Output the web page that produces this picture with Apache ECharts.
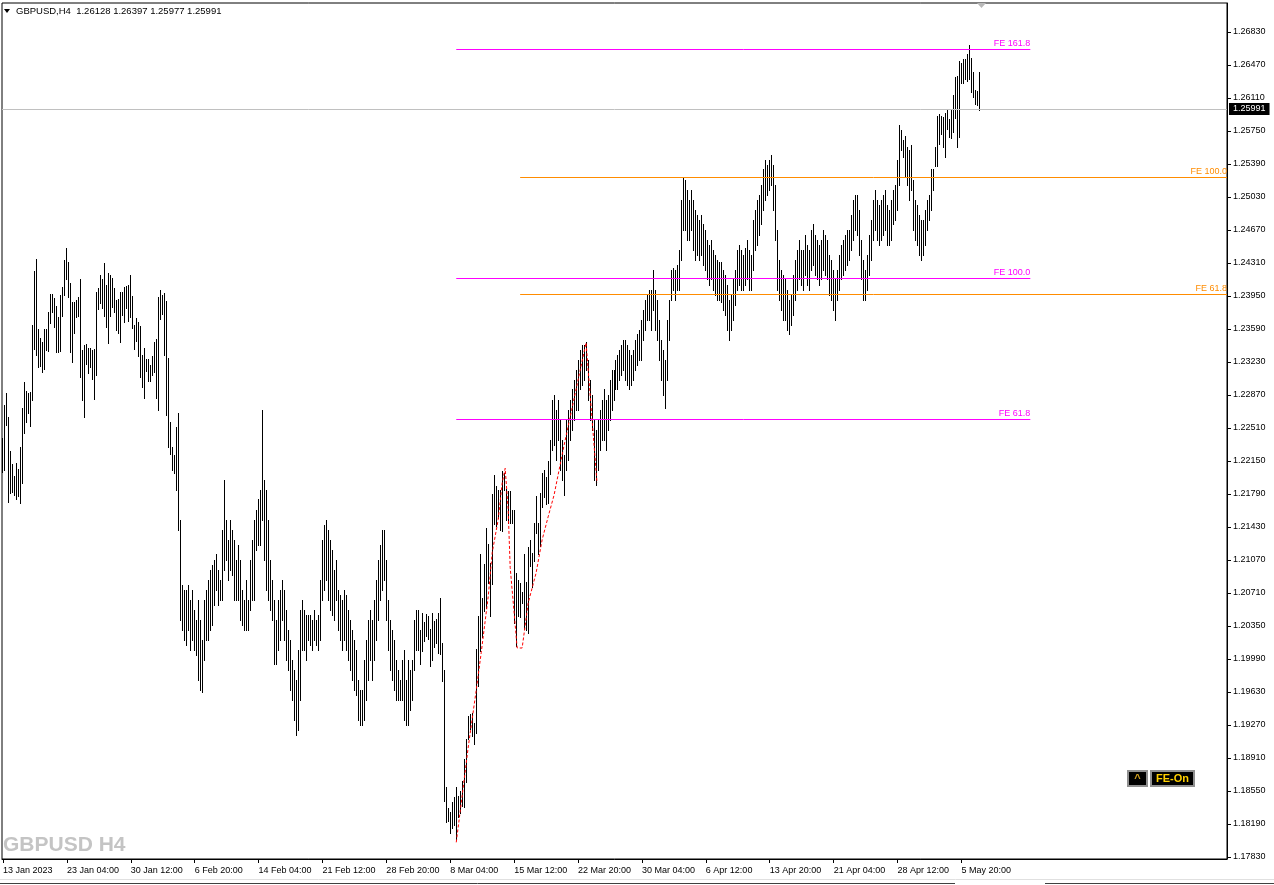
<!DOCTYPE html>
<html><head><meta charset="utf-8">
<script src="https://cdn.jsdelivr.net/npm/echarts@6/dist/echarts.min.js"></script>
<style>html,body{margin:0;padding:0;background:#fff;}#c{width:1274px;height:885px;}</style>
</head><body><div id="c"></div>
<script>
const headerText = 'GBPUSD,H4  1.26128 1.26397 1.25977 1.25991';
const watermark = 'GBPUSD H4';
const lastPrice = 1.25991;
const timeLabels = ['13 Jan 2023','23 Jan 04:00','30 Jan 12:00','6 Feb 20:00','14 Feb 04:00','21 Feb 12:00','28 Feb 20:00','8 Mar 04:00','15 Mar 12:00','22 Mar 20:00','30 Mar 04:00','6 Apr 12:00','13 Apr 20:00','21 Apr 04:00','28 Apr 12:00','5 May 20:00'];
const timeTickIdx = [0,32,64,96,128,160,192,224,256,288,320,352,384,416,448,480];
const priceTicks = [1.1783,1.1819,1.1855,1.1891,1.1927,1.1963,1.1999,1.2035,1.2071,1.2107,1.2143,1.2179,1.2215,1.2251,1.2287,1.2323,1.2359,1.2395,1.2431,1.2467,1.2503,1.2539,1.2575,1.2611,1.2647,1.2683];

const highs = [
1.2240,1.2276,1.2289,1.2263,1.2226,1.2212,1.2199,1.2213,1.2206,1.2230,
1.2273,1.2301,1.2291,1.2289,1.2290,1.2363,1.2422,1.2435,1.2359,1.2349,
1.2345,1.2359,1.2359,1.2378,1.2397,1.2397,1.2393,1.2384,1.2372,1.2396,
1.2405,1.2434,1.2447,1.2432,1.2409,1.2389,1.2389,1.2391,1.2394,1.2414,
1.2336,1.2341,1.2343,1.2338,1.2338,1.2336,1.2337,1.2399,1.2404,1.2418,
1.2413,1.2431,1.2407,1.2420,1.2418,1.2415,1.2404,1.2391,1.2392,1.2399,
1.2399,1.2405,1.2406,1.2407,1.2418,1.2395,1.2363,1.2371,1.2367,1.2362,
1.2331,1.2338,1.2326,1.2326,1.2320,1.2329,1.2345,1.2348,1.2394,1.2402,
1.2396,1.2398,1.2390,1.2327,1.2257,1.2230,1.2221,1.2252,1.2267,1.2151,
1.2080,1.2074,1.2074,1.2080,1.2063,1.2074,1.2052,1.2042,1.2063,1.2042,
1.2020,1.2063,1.2074,1.2085,1.2096,1.2102,1.2107,1.2113,1.2096,1.2085,
1.2140,1.2194,1.2151,1.2129,1.2151,1.2140,1.2129,1.2107,1.2123,1.2107,
1.2074,1.2063,1.2085,1.2063,1.2107,1.2129,1.2151,1.2162,1.2173,1.2183,
1.2271,1.2194,1.2183,1.2151,1.2107,1.2085,1.2063,1.2042,1.2063,1.2074,
1.2085,1.2074,1.2052,1.2031,1.2020,1.1998,1.1987,1.1976,1.2009,1.2052,
1.2063,1.2052,1.2047,1.2047,1.2047,1.2042,1.2052,1.2042,1.2047,1.2085,
1.2129,1.2145,1.2151,1.2140,1.2129,1.2118,1.2096,1.2107,1.2074,1.2069,
1.2063,1.2074,1.2069,1.2052,1.2042,1.2031,1.2020,1.2009,1.1976,1.1965,
1.1965,1.1998,1.2020,1.2042,1.2052,1.2042,1.2063,1.2085,1.2107,1.2123,
1.2140,1.2140,1.2107,1.2063,1.2042,1.2031,1.2020,1.1998,1.1987,1.1976,
1.1998,1.2009,1.1976,1.1998,1.1987,1.1998,1.2042,1.2052,1.2052,1.2031,
1.2049,1.2039,1.2048,1.2046,1.2032,1.2049,1.2040,1.2043,1.2049,1.2066,
1.2016,1.1987,1.1859,1.1836,1.1832,1.1843,1.1848,1.1859,1.1850,1.1855,
1.1866,1.1890,1.1912,1.1937,1.1939,1.1940,1.1929,1.2010,1.2046,1.2114,
1.2066,1.2103,1.2142,1.2125,1.2104,1.2179,1.2200,1.2188,1.2183,1.2183,
1.2204,1.2202,1.2185,1.2182,1.2182,1.2162,1.2162,1.2093,1.2085,1.2082,
1.2072,1.2114,1.2083,1.2121,1.2129,1.2115,1.2147,1.2177,1.2147,1.2180,
1.2202,1.2205,1.2198,1.2215,1.2238,1.2282,1.2287,1.2271,1.2282,1.2260,
1.2238,1.2222,1.2260,1.2271,1.2282,1.2293,1.2303,1.2314,1.2325,1.2336,
1.2342,1.2342,1.2345,1.2325,1.2303,1.2287,1.2260,1.2249,1.2260,1.2271,
1.2282,1.2293,1.2282,1.2287,1.2303,1.2314,1.2314,1.2325,1.2331,1.2336,
1.2342,1.2347,1.2347,1.2342,1.2336,1.2331,1.2336,1.2347,1.2353,1.2358,
1.2369,1.2380,1.2391,1.2396,1.2402,1.2402,1.2423,1.2402,1.2391,1.2369,
1.2347,1.2336,1.2325,1.2369,1.2391,1.2423,1.2426,1.2423,1.2429,1.2445,
1.2500,1.2524,1.2522,1.2511,1.2500,1.2511,1.2500,1.2489,1.2483,1.2478,
1.2483,1.2473,1.2467,1.2456,1.2451,1.2456,1.2445,1.2440,1.2434,1.2432,
1.2432,1.2423,1.2418,1.2407,1.2391,1.2396,1.2413,1.2423,1.2445,1.2451,
1.2445,1.2440,1.2447,1.2456,1.2445,1.2440,1.2478,1.2489,1.2500,1.2505,
1.2516,1.2533,1.2543,1.2538,1.2543,1.2549,1.2538,1.2516,1.2467,1.2434,
1.2423,1.2418,1.2413,1.2402,1.2391,1.2396,1.2418,1.2434,1.2445,1.2456,
1.2445,1.2445,1.2462,1.2451,1.2445,1.2467,1.2473,1.2462,1.2456,1.2451,
1.2456,1.2467,1.2462,1.2456,1.2440,1.2434,1.2423,1.2413,1.2423,1.2440,
1.2451,1.2456,1.2462,1.2467,1.2467,1.2483,1.2500,1.2505,1.2505,1.2489,
1.2456,1.2434,1.2423,1.2440,1.2462,1.2478,1.2500,1.2511,1.2500,1.2494,
1.2500,1.2505,1.2511,1.2494,1.2489,1.2500,1.2511,1.2516,1.2543,1.2582,
1.2576,1.2565,1.2570,1.2558,1.2554,1.2560,1.2522,1.2500,1.2494,1.2483,
1.2478,1.2478,1.2489,1.2500,1.2505,1.2533,1.2534,1.2557,1.2591,1.2593,
1.2591,1.2590,1.2595,1.2599,1.2588,1.2599,1.2614,1.2634,1.2635,1.2651,
1.2649,1.2654,1.2654,1.2659,1.2669,1.2655,1.2639,1.2620,1.2619,1.26397
];
const lows = [
1.2203,1.2205,1.2254,1.2170,1.2180,1.2181,1.2178,1.2174,1.2177,1.2169,
1.2191,1.2246,1.2258,1.2267,1.2253,1.2281,1.2337,1.2331,1.2318,1.2319,
1.2312,1.2315,1.2336,1.2335,1.2366,1.2377,1.2361,1.2334,1.2334,1.2335,
1.2373,1.2396,1.2414,1.2394,1.2334,1.2323,1.2355,1.2372,1.2373,1.2307,
1.2281,1.2263,1.2321,1.2311,1.2317,1.2305,1.2283,1.2309,1.2381,1.2387,
1.2382,1.2373,1.2361,1.2344,1.2373,1.2383,1.2377,1.2358,1.2355,1.2345,
1.2374,1.2367,1.2382,1.2368,1.2372,1.2360,1.2337,1.2346,1.2330,1.2307,
1.2296,1.2284,1.2313,1.2302,1.2302,1.2309,1.2312,1.2284,1.2271,1.2370,
1.2375,1.2331,1.2265,1.2230,1.2223,1.2205,1.2202,1.2183,1.2140,1.2042,
1.2031,1.2020,1.2014,1.2031,1.2009,1.2020,1.2009,1.2003,1.1976,1.1965,
1.1963,1.1998,1.2020,1.2020,1.2031,1.2036,1.2058,1.2074,1.2058,1.2063,
1.2063,1.2096,1.2107,1.2085,1.2096,1.2091,1.2063,1.2063,1.2063,1.2042,
1.2036,1.2031,1.2031,1.2031,1.2052,1.2063,1.2063,1.2118,1.2123,1.2123,
1.2151,1.2107,1.2074,1.2063,1.2052,1.2042,1.1993,1.1993,1.2009,1.2020,
1.2042,1.2020,1.1998,1.1987,1.1965,1.1954,1.1932,1.1916,1.1922,1.1954,
1.2009,1.2009,1.1998,1.2020,1.2014,1.2009,1.2020,1.2014,1.2009,1.2020,
1.2063,1.2074,1.2085,1.2063,1.2052,1.2047,1.2042,1.2063,1.2031,1.2020,
1.2009,1.2020,1.2009,1.1998,1.1987,1.1976,1.1965,1.1960,1.1932,1.1927,
1.1927,1.1932,1.1954,1.1976,1.1998,1.1976,1.1998,1.2020,1.2042,1.2063,
1.2074,1.2085,1.2042,1.2009,1.1987,1.1976,1.1965,1.1954,1.1954,1.1954,
1.1954,1.1932,1.1927,1.1927,1.1943,1.1954,1.1987,1.2009,1.2009,1.1993,
1.2008,1.2019,1.2024,1.2021,1.1991,1.1998,1.2012,1.2016,1.2006,1.2005,
1.1975,1.1844,1.1821,1.1822,1.1809,1.1815,1.1818,1.1803,1.1827,1.1831,
1.1839,1.1838,1.1865,1.1912,1.1923,1.1915,1.1906,1.1918,1.1970,1.2008,
1.2023,1.2051,1.2055,1.2082,1.2046,1.2081,1.2146,1.2144,1.2153,1.2140,
1.2139,1.2183,1.2151,1.2147,1.2147,1.2147,1.2038,1.2013,1.2046,1.2045,
1.2060,1.2032,1.2031,1.2027,1.2100,1.2078,1.2106,1.2136,1.2113,1.2122,
1.2165,1.2176,1.2168,1.2169,1.2201,1.2227,1.2232,1.2216,1.2238,1.2205,
1.2194,1.2178,1.2205,1.2216,1.2238,1.2249,1.2260,1.2271,1.2271,1.2293,
1.2298,1.2303,1.2314,1.2282,1.2260,1.2249,1.2194,1.2189,1.2205,1.2227,
1.2238,1.2238,1.2227,1.2249,1.2260,1.2271,1.2282,1.2293,1.2293,1.2303,
1.2309,1.2314,1.2303,1.2298,1.2293,1.2298,1.2303,1.2314,1.2320,1.2325,
1.2325,1.2347,1.2358,1.2369,1.2369,1.2358,1.2380,1.2358,1.2347,1.2325,
1.2303,1.2287,1.2273,1.2303,1.2347,1.2391,1.2402,1.2391,1.2402,1.2402,
1.2434,1.2467,1.2467,1.2456,1.2456,1.2467,1.2445,1.2434,1.2440,1.2434,
1.2440,1.2429,1.2423,1.2413,1.2407,1.2413,1.2402,1.2396,1.2391,1.2391,
1.2389,1.2380,1.2374,1.2358,1.2347,1.2358,1.2369,1.2385,1.2402,1.2407,
1.2402,1.2402,1.2407,1.2413,1.2402,1.2402,1.2423,1.2445,1.2451,1.2462,
1.2473,1.2489,1.2500,1.2505,1.2511,1.2516,1.2489,1.2456,1.2402,1.2391,
1.2380,1.2369,1.2369,1.2358,1.2353,1.2363,1.2374,1.2391,1.2402,1.2413,
1.2407,1.2402,1.2418,1.2407,1.2402,1.2423,1.2429,1.2418,1.2413,1.2407,
1.2413,1.2423,1.2418,1.2413,1.2396,1.2391,1.2380,1.2369,1.2391,1.2402,
1.2413,1.2418,1.2423,1.2429,1.2434,1.2445,1.2456,1.2467,1.2462,1.2440,
1.2413,1.2391,1.2391,1.2402,1.2418,1.2434,1.2456,1.2467,1.2456,1.2451,
1.2456,1.2462,1.2467,1.2451,1.2451,1.2456,1.2473,1.2478,1.2489,1.2516,
1.2554,1.2547,1.2525,1.2516,1.2500,1.2511,1.2467,1.2456,1.2451,1.2440,
1.2434,1.2440,1.2451,1.2467,1.2478,1.2489,1.2511,1.2537,1.2537,1.2561,
1.2572,1.2557,1.2547,1.2577,1.2569,1.2567,1.2574,1.2589,1.2558,1.2569,
1.2627,1.2627,1.2632,1.2630,1.2632,1.2617,1.2612,1.2605,1.2603,1.25977
];
// zigzag path (bar index, price)
const zigzagIdx   = [227,229.5,233,237,239.5,243,245,248,250,251.5,253,254,256,257.5,260,263,267,270,273,276,280.5,292,297.5];
const zigzagPrice = [1.1799,1.1842,1.1903,1.1965,1.2006,1.2067,1.2115,1.2151,1.2191,1.2207,1.2162,1.2099,1.2049,1.2011,1.2011,1.2060,1.2093,1.2129,1.2154,1.2178,1.2227,1.2344,1.2191];
// Fibonacci expansion levels
const feNames  = ['FE 161.8','FE 100.0','FE 61.8','FE 100.0','FE 61.8'];
const fePrices = [1.26644,1.24146,1.22608,1.25248,1.23972];
const feFrom   = [227,227,227,259,259];
const feTo     = [514.5,514.5,514.5,613,613];
const feGroup  = ['m','m','m','o','o'];

if (highs.length !== lows.length) throw new Error('len mismatch ' + highs.length + ' ' + lows.length);

const FONT = 'Liberation Sans, Arial, sans-serif';
const chart = echarts.init(document.getElementById('c'), null, {renderer:'canvas'});
const K = 0.0036/33;
const yMin = 1.1783 - 2*K, yMax = 1.2683 + 29*K;

const feColors = {m:'#ff00ff', o:'#ff8c00'};
const markData = fePrices.map((p,i)=>[
  {coord:[feFrom[i],p], lineStyle:{color:feColors[feGroup[i]],width:1,type:'solid'},
   label:{show:true, position:'insideEndTop', formatter:feNames[i], color:feColors[feGroup[i]], fontSize:9, fontFamily:FONT, distance:[0,1]}},
  {coord:[feTo[i],p]}
]);
markData.push([
  {coord:[-0.5,lastPrice], lineStyle:{color:'#c0c0c0',width:1,type:'solid'},
   label:{show:true, position:'end', formatter:lastPrice.toFixed(5), color:'#fff', backgroundColor:'#000', padding:[2,4,1,4], fontSize:9, fontFamily:FONT, distance:2}},
  {coord:[613,lastPrice]}
]);

chart.setOption({
  animation:false,
  backgroundColor:'#fff',
  grid:{left:0, right:47, top:3, bottom:26, show:true, borderColor:'#000', borderWidth:1},
  xAxis:{type:'value', min:-0.5, max:613,
    axisLine:{show:true, onZero:false, lineStyle:{color:'#000', width:1}},
    axisTick:{show:true, customValues:timeTickIdx, length:4, lineStyle:{color:'#000'}},
    axisLabel:{show:true, customValues:timeTickIdx, formatter:v=>timeLabels[Math.round(v/32)]||'', align:'left', color:'#000', fontSize:9, fontFamily:FONT, margin:7},
    splitLine:{show:false}},
  yAxis:{type:'value', position:'right', min:yMin, max:yMax, scale:true,
    axisLine:{show:true, onZero:false, lineStyle:{color:'#000', width:1}},
    axisTick:{show:true, customValues:priceTicks, length:4, lineStyle:{color:'#000'}},
    axisLabel:{show:true, customValues:priceTicks, formatter:v=>v.toFixed(5), color:'#000', fontSize:9, fontFamily:FONT, margin:6},
    splitLine:{show:false}},
  series:[
    {type:'custom', z:3, clip:true,
     data:highs.map((h,i)=>[i,h,lows[i]]),
     encode:{x:0, y:[1,2]},
     renderItem:function(params, api){
       const ph = api.coord([api.value(0), api.value(1)]);
       const pl = api.coord([api.value(0), api.value(2)]);
       const x = Math.floor(ph[0]) + 0.5;
       return {type:'line', shape:{x1:x, y1:Math.round(ph[1]), x2:x, y2:Math.round(pl[1])+1}, style:{stroke:'#000', lineWidth:1}};
     }},
    {type:'line', z:4, symbol:'none', silent:true,
     data:zigzagIdx.map((x,i)=>[x, zigzagPrice[i]]),
     lineStyle:{color:'#ff0000', width:1, type:[3,2]},
     markLine:{symbol:['none','none'], silent:true, animation:false, data:markData}}
  ],
  graphic:[
    {type:'polygon', shape:{points:[[4,9],[10,9],[7,13]]}, style:{fill:'#000'}},
    {type:'text', left:16, top:6, style:{text:headerText, fill:'#000', font:'9.5px '+FONT}},
    {type:'text', left:3, top:835, style:{text:watermark, fill:'#c4c4c4', font:'bold 21px '+FONT}},
    {type:'polygon', shape:{points:[[977,3],[986,3],[981.5,8]]}, style:{fill:'#b8b8b8'}},
    {type:'rect', shape:{x:1128,y:771,width:19,height:15}, style:{fill:'#000', stroke:'#909090', lineWidth:2}},
    {type:'text', x:1137.5, y:779, style:{text:'^', fill:'#d0a020', font:'bold 11px '+FONT, align:'center', verticalAlign:'middle'}},
    {type:'rect', shape:{x:1151,y:771,width:43,height:15}, style:{fill:'#000', stroke:'#909090', lineWidth:2}},
    {type:'text', x:1172.5, y:779, style:{text:'FE-On', fill:'#ffd000', font:'bold 11px '+FONT, align:'center', verticalAlign:'middle'}},
    {type:'line', shape:{x1:0,y1:879.5,x2:1274,y2:879.5}, style:{stroke:'#e0e0e0', lineWidth:1}},
    {type:'line', shape:{x1:0,y1:883.5,x2:955,y2:883.5}, style:{stroke:'#404040', lineWidth:1}},
    {type:'line', shape:{x1:1045,y1:883.5,x2:1274,y2:883.5}, style:{stroke:'#404040', lineWidth:1}}
  ]
});
</script></body></html>
